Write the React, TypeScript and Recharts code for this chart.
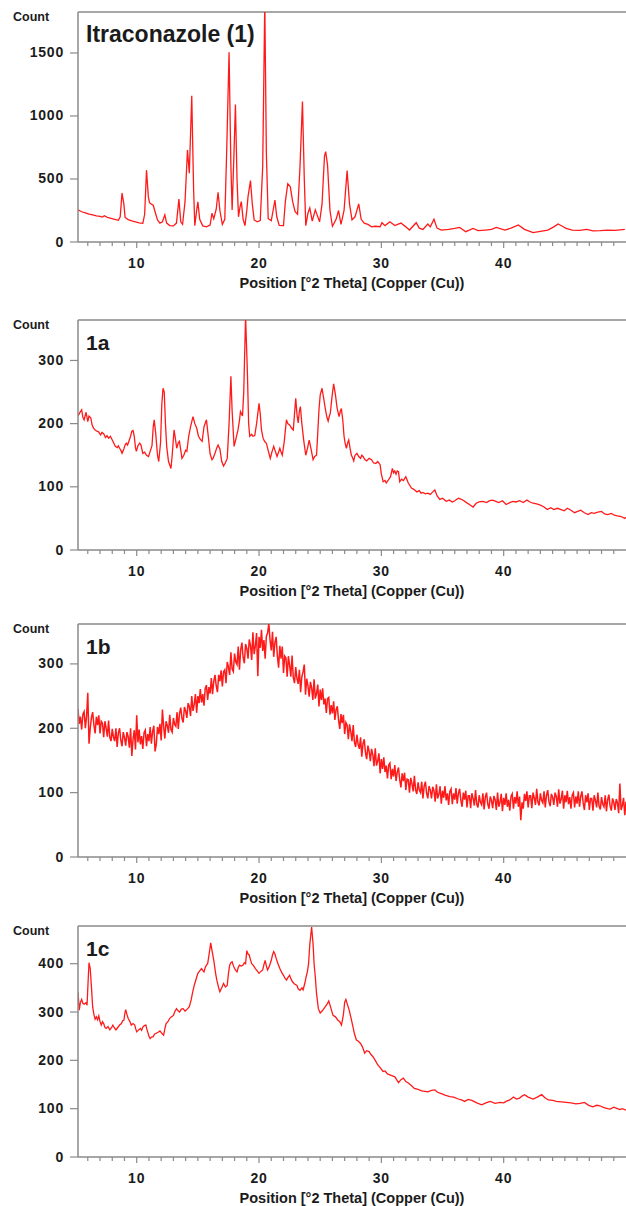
import { LineChart, Line, XAxis, YAxis, ReferenceLine } from "recharts";

// XRD patterns, [2 theta, count]
const itraconazole: [number, number][] = [
  [5.2, 255], [5.5, 240], [5.8, 232], [6.1, 222], [6.4, 215], [6.7, 208], [7.0, 203], [7.2, 198],
  [7.35, 208], [7.6, 196], [7.9, 188], [8.2, 180], [8.5, 172], [8.65, 200], [8.8, 388], [8.95, 300],
  [9.05, 195], [9.3, 178], [9.6, 168], [9.9, 160], [10.2, 152], [10.5, 148], [10.65, 220], [10.8, 570],
  [10.95, 360], [11.05, 312], [11.2, 300], [11.35, 292], [11.5, 240], [11.7, 175], [11.9, 150],
  [12.1, 160], [12.3, 215], [12.45, 150], [12.7, 130], [13.0, 128], [13.25, 150], [13.45, 340],
  [13.6, 160], [13.75, 140], [13.95, 320], [14.15, 730], [14.3, 545], [14.5, 1160], [14.65, 420],
  [14.75, 130], [14.9, 250], [15.0, 318], [15.15, 180], [15.4, 128], [15.7, 120], [16.0, 135],
  [16.15, 228], [16.3, 185], [16.5, 260], [16.65, 395], [16.8, 250], [17.0, 140], [17.2, 180],
  [17.35, 700], [17.55, 1505], [17.7, 600], [17.8, 255], [17.95, 700], [18.07, 1090], [18.2, 500],
  [18.32, 200], [18.45, 280], [18.55, 320], [18.7, 180], [18.85, 130], [19.0, 250], [19.1, 360],
  [19.3, 487], [19.45, 300], [19.6, 175], [19.85, 160], [20.1, 170], [20.3, 600], [20.47, 1900],
  [20.6, 700], [20.75, 185], [21.0, 170], [21.15, 250], [21.3, 333], [21.45, 200], [21.65, 132],
  [22.0, 130], [22.15, 320], [22.35, 462], [22.55, 440], [22.75, 320], [22.95, 240], [23.15, 220],
  [23.35, 600], [23.55, 1114], [23.7, 500], [23.82, 130], [24.0, 230], [24.15, 270], [24.35, 165],
  [24.6, 255], [24.95, 160], [25.15, 300], [25.35, 680], [25.45, 717], [25.6, 610], [25.8, 250],
  [26.0, 125], [26.3, 180], [26.5, 250], [26.7, 140], [26.95, 250], [27.2, 566], [27.4, 300],
  [27.6, 175], [27.85, 200], [28.15, 302], [28.35, 180], [28.6, 150], [28.9, 140], [29.2, 120],
  [29.5, 125], [29.9, 121], [30.05, 153], [30.3, 130], [30.7, 161], [31.1, 130], [31.6, 150],
  [32.0, 120], [32.3, 95], [32.85, 153], [33.1, 110], [33.4, 100], [33.8, 143], [34.0, 120],
  [34.3, 180], [34.55, 110], [34.9, 95], [35.5, 100], [36.0, 108], [36.4, 116], [36.9, 82],
  [37.5, 108], [37.9, 90], [38.5, 95], [39.0, 100], [39.4, 116], [40.1, 95], [40.6, 110],
  [41.2, 135], [41.7, 100], [42.4, 74], [43.0, 85], [43.6, 95], [44.1, 120], [44.45, 143],
  [44.8, 125], [45.1, 108], [45.6, 95], [46.2, 92], [46.8, 100], [47.3, 88], [47.9, 90],
  [48.5, 95], [49.1, 92], [49.9, 100],
];

const sample1a: [number, number][] = [
  [5.2, 212], [5.34, 217], [5.5, 222], [5.6, 210], [5.7, 206], [5.86, 218], [6.0, 203], [6.1, 212],
  [6.25, 209], [6.35, 198], [6.47, 193], [6.6, 190], [6.75, 188], [6.88, 187], [7.05, 182],
  [7.15, 186], [7.3, 184], [7.45, 178], [7.57, 181], [7.7, 177], [7.85, 180], [7.98, 175],
  [8.1, 170], [8.25, 164], [8.4, 162], [8.5, 165], [8.6, 161], [8.7, 158], [8.8, 153], [8.95, 160],
  [9.05, 166], [9.15, 169], [9.25, 166], [9.34, 171], [9.5, 180], [9.6, 188], [9.7, 189],
  [9.8, 180], [9.9, 162], [9.97, 156], [10.1, 165], [10.24, 169], [10.35, 166], [10.5, 153],
  [10.65, 155], [10.8, 150], [10.97, 148], [11.1, 156], [11.25, 165], [11.35, 195], [11.43, 206],
  [11.55, 185], [11.7, 150], [11.8, 140], [11.95, 170], [12.05, 230], [12.15, 256], [12.25, 250],
  [12.35, 200], [12.45, 164], [12.6, 140], [12.8, 129], [12.9, 150], [13.05, 190], [13.15, 178],
  [13.27, 161], [13.4, 170], [13.49, 172], [13.6, 158], [13.7, 145], [13.85, 150], [14.0, 158],
  [14.1, 156], [14.25, 180], [14.4, 195], [14.6, 211], [14.75, 200], [14.9, 193], [15.05, 180],
  [15.2, 175], [15.35, 172], [15.5, 195], [15.7, 206], [15.85, 180], [16.0, 152], [16.15, 143],
  [16.24, 145], [16.4, 153], [16.55, 162], [16.65, 166], [16.8, 160], [16.95, 140], [17.1, 133],
  [17.25, 138], [17.4, 145], [17.55, 200], [17.7, 275], [17.8, 220], [17.96, 164], [18.1, 175],
  [18.28, 190], [18.4, 205], [18.48, 219], [18.58, 215], [18.65, 212], [18.75, 250], [18.9, 370],
  [19.05, 280], [19.15, 200], [19.24, 180], [19.4, 183], [19.5, 180], [19.65, 181], [19.8, 200],
  [20.0, 232], [20.1, 215], [20.2, 190], [20.33, 177], [20.45, 172], [20.6, 169], [20.74, 158],
  [20.85, 150], [20.92, 145], [21.05, 155], [21.2, 164], [21.3, 158], [21.47, 148], [21.6, 155],
  [21.7, 161], [21.8, 155], [21.9, 150], [22.05, 170], [22.24, 206], [22.35, 200], [22.5, 198],
  [22.65, 193], [22.8, 190], [22.9, 215], [23.0, 240], [23.1, 215], [23.2, 201], [23.3, 220],
  [23.38, 227], [23.5, 200], [23.65, 174], [23.82, 150], [23.95, 160], [24.1, 174], [24.25, 160],
  [24.42, 143], [24.55, 148], [24.7, 150], [24.8, 185], [24.9, 222], [25.0, 245], [25.15, 256],
  [25.3, 238], [25.45, 220], [25.55, 210], [25.65, 204], [25.75, 212], [25.83, 217], [25.95, 240],
  [26.1, 263], [26.25, 245], [26.38, 225], [26.54, 211], [26.65, 220], [26.73, 224], [26.85, 205],
  [26.95, 180], [27.05, 168], [27.14, 161], [27.25, 170], [27.33, 174], [27.45, 160], [27.55, 150],
  [27.65, 146], [27.74, 141], [27.85, 150], [28.0, 153], [28.15, 148], [28.3, 145], [28.4, 150],
  [28.5, 148], [28.65, 143], [28.8, 141], [29.0, 145], [29.2, 143], [29.35, 138], [29.55, 137],
  [29.7, 140], [29.9, 135], [30.0, 120], [30.15, 108], [30.3, 110], [30.4, 106], [30.55, 110],
  [30.75, 116], [30.9, 129], [31.0, 122], [31.1, 125], [31.2, 120], [31.3, 125], [31.4, 124],
  [31.5, 108], [31.65, 112], [31.8, 110], [32.0, 116], [32.2, 106], [32.46, 98], [32.65, 96],
  [32.9, 92], [33.1, 94], [33.25, 90], [33.4, 91], [33.6, 89], [33.8, 90], [34.0, 88], [34.2, 92],
  [34.37, 95], [34.55, 86], [34.78, 80], [35.0, 82], [35.3, 77], [35.55, 79], [35.8, 76],
  [36.0, 78], [36.3, 82], [36.55, 80], [36.75, 78], [36.96, 75], [37.2, 72], [37.5, 68],
  [37.75, 74], [38.0, 76], [38.3, 77], [38.6, 75], [38.85, 78], [39.1, 79], [39.35, 77],
  [39.6, 75], [39.9, 78], [40.2, 72], [40.5, 75], [40.75, 77], [41.0, 76], [41.3, 78], [41.6, 75],
  [41.9, 79], [42.15, 76], [42.4, 74], [42.7, 73], [43.0, 71], [43.3, 68], [43.57, 64],
  [43.85, 67], [44.1, 64], [44.4, 66], [44.7, 64], [44.95, 62], [45.2, 66], [45.5, 63],
  [45.8, 59], [46.05, 61], [46.3, 63], [46.6, 59], [46.9, 56], [47.15, 59], [47.4, 58],
  [47.7, 60], [48.0, 61], [48.25, 57], [48.5, 56], [48.8, 58], [49.05, 55], [49.3, 54],
  [49.6, 53], [49.9, 50], [50.0, 52],
];

// 1b is an evenly stepped, noisy scan: one count every 0.1 deg from 5.2 to 50.0
const SCAN_1B_START = 5.2;
const SCAN_1B_STEP = 0.1;
const counts1b = [
  230, 207, 218, 198, 222, 226, 200, 218, 255, 176,
  200, 217, 225, 205, 192, 218, 205, 220, 192, 211,
  208, 186, 211, 200, 187, 212, 186, 180, 199, 186,
  180, 200, 171, 193, 200, 181, 172, 194, 186, 173,
  194, 187, 170, 200, 157, 183, 197, 167, 220, 178,
  198, 175, 188, 168, 193, 197, 172, 191, 180, 202,
  176, 195, 204, 164, 175, 202, 191, 207, 181, 229,
  203, 184, 211, 204, 193, 221, 198, 194, 216, 206,
  203, 225, 199, 223, 232, 215, 209, 233, 227, 216,
  239, 234, 219, 250, 227, 237, 253, 224, 250, 239,
  261, 240, 253, 235, 262, 267, 244, 264, 254, 278,
  253, 273, 283, 266, 256, 283, 273, 290, 265, 288,
  291, 270, 303, 295, 283, 318, 292, 288, 316, 303,
  299, 327, 291, 322, 333, 310, 301, 331, 324, 308,
  338, 329, 306, 349, 315, 328, 348, 281, 342, 325,
  353, 320, 337, 308, 343, 348, 363, 337, 321, 350,
  311, 333, 342, 312, 294, 328, 308, 327, 286, 312,
  309, 280, 312, 298, 280, 313, 279, 270, 295, 277,
  269, 291, 256, 280, 288, 299, 252, 277, 266, 249,
  272, 263, 244, 276, 246, 254, 268, 234, 260, 244,
  262, 237, 246, 224, 246, 248, 221, 236, 223, 242,
  213, 229, 234, 213, 199, 222, 208, 221, 191, 209,
  205, 183, 206, 195, 180, 205, 178, 171, 190, 175,
  168, 186, 156, 176, 183, 162, 152, 173, 164, 149,
  168, 159, 141, 169, 142, 149, 161, 130, 152, 137,
  155, 132, 142, 122, 143, 146, 121, 137, 125, 143,
  118, 132, 139, 120, 108, 130, 118, 131, 104, 121,
  120, 100, 123, 114, 102, 126, 104, 98, 116, 104,
  100, 117, 91, 110, 117, 99, 91, 110, 104, 91,
  109, 103, 86, 113, 91, 97, 110, 83, 103, 92,
  110, 88, 99, 81, 102, 106, 82, 99, 89, 107,
  83, 99, 106, 88, 78, 100, 89, 103, 77, 95,
  95, 76, 99, 91, 80, 104, 82, 77, 96, 85,
  81, 99, 74, 93, 100, 82, 75, 94, 88, 76,
  95, 89, 73, 100, 78, 85, 98, 71, 92, 81,
  99, 78, 89, 72, 94, 98, 75, 93, 83, 102,
  78, 94, 57, 85, 75, 98, 87, 102, 77, 95,
  95, 76, 100, 92, 81, 106, 85, 80, 99, 88,
  84, 102, 77, 96, 104, 86, 79, 98, 93, 81,
  100, 94, 78, 105, 83, 90, 103, 75, 96, 85,
  103, 82, 93, 75, 96, 100, 77, 94, 83, 102,
  78, 94, 102, 84, 73, 96, 85, 99, 73, 91,
  91, 72, 96, 88, 77, 100, 79, 74, 93, 82,
  78, 96, 71, 89, 97, 79, 72, 91, 85, 73,
  90, 84, 68, 114, 73, 80, 92, 65, 86,
];

const sample1c: [number, number][] = [
  [5.2, 342], [5.3, 304], [5.4, 320], [5.5, 326], [5.6, 318], [5.7, 316], [5.85, 319], [5.94, 314],
  [6.02, 360], [6.1, 402], [6.2, 390], [6.3, 352], [6.4, 310], [6.5, 295], [6.6, 285], [6.7, 290],
  [6.8, 284], [6.9, 292], [7.0, 280], [7.1, 273], [7.2, 280], [7.3, 276], [7.4, 268], [7.5, 266],
  [7.65, 270], [7.8, 263], [7.95, 268], [8.05, 273], [8.15, 268], [8.3, 263], [8.45, 268],
  [8.6, 273], [8.75, 276], [8.85, 282], [8.95, 283], [9.05, 300], [9.1, 305], [9.2, 295],
  [9.3, 287], [9.45, 280], [9.56, 273], [9.7, 276], [9.84, 273], [9.92, 265], [10.0, 259],
  [10.15, 263], [10.3, 266], [10.4, 262], [10.5, 269], [10.62, 272], [10.75, 273], [10.82, 265],
  [10.9, 259], [11.0, 250], [11.1, 245], [11.2, 248], [11.35, 249], [11.45, 254], [11.6, 256],
  [11.75, 258], [11.9, 261], [12.05, 256], [12.2, 252], [12.3, 265], [12.4, 276], [12.55, 280],
  [12.7, 287], [12.85, 290], [13.0, 293], [13.1, 300], [13.25, 307], [13.4, 302], [13.5, 300],
  [13.65, 306], [13.8, 307], [13.95, 302], [14.05, 304], [14.2, 308], [14.3, 311], [14.45, 325],
  [14.55, 338], [14.65, 350], [14.75, 359], [14.9, 372], [15.0, 380], [15.15, 385], [15.3, 390],
  [15.4, 386], [15.5, 383], [15.6, 392], [15.7, 397], [15.8, 400], [15.92, 420], [16.05, 443],
  [16.15, 428], [16.3, 407], [16.45, 380], [16.55, 366], [16.7, 350], [16.8, 342], [16.95, 350],
  [17.1, 359], [17.25, 352], [17.4, 355], [17.5, 380], [17.6, 397], [17.7, 402], [17.8, 404],
  [17.9, 396], [18.0, 390], [18.1, 386], [18.2, 383], [18.3, 392], [18.4, 397], [18.55, 395],
  [18.7, 397], [18.8, 402], [18.9, 400], [19.0, 427], [19.1, 420], [19.2, 418], [19.3, 408],
  [19.4, 400], [19.55, 396], [19.7, 390], [19.85, 385], [20.0, 380], [20.15, 384], [20.3, 387],
  [20.4, 398], [20.5, 407], [20.6, 395], [20.7, 387], [20.85, 395], [21.0, 407], [21.1, 418],
  [21.2, 425], [21.3, 420], [21.4, 411], [21.55, 400], [21.7, 390], [21.85, 382], [22.0, 376],
  [22.12, 370], [22.25, 366], [22.38, 372], [22.5, 376], [22.62, 368], [22.75, 362], [22.9, 358],
  [23.1, 355], [23.2, 348], [23.35, 345], [23.5, 350], [23.6, 346], [23.75, 360], [23.85, 373],
  [23.95, 383], [24.05, 400], [24.15, 440], [24.3, 476], [24.42, 440], [24.5, 400], [24.6, 373],
  [24.7, 338], [24.85, 307], [25.0, 298], [25.15, 302], [25.3, 307], [25.45, 312], [25.6, 318],
  [25.7, 323], [25.85, 310], [26.05, 293], [26.25, 290], [26.45, 283], [26.6, 280], [26.74, 273],
  [26.9, 295], [27.0, 320], [27.1, 326], [27.2, 318], [27.37, 304], [27.5, 290], [27.65, 273],
  [27.8, 255], [27.96, 242], [28.1, 240], [28.3, 235], [28.45, 228], [28.64, 215], [28.8, 220],
  [29.0, 218], [29.15, 212], [29.3, 208], [29.5, 200], [29.7, 191], [29.9, 185], [30.14, 177],
  [30.3, 178], [30.5, 172], [30.7, 170], [30.9, 168], [31.1, 166], [31.25, 160], [31.4, 154],
  [31.6, 160], [31.8, 163], [32.0, 156], [32.2, 153], [32.45, 148], [32.7, 142], [33.0, 140],
  [33.3, 137], [33.55, 136], [33.8, 135], [34.1, 138], [34.37, 139], [34.6, 134], [34.9, 131],
  [35.2, 128], [35.6, 125], [35.9, 124], [36.3, 120], [36.55, 118], [36.8, 115], [37.1, 119],
  [37.4, 117], [37.8, 112], [38.2, 108], [38.55, 112], [38.9, 115], [39.3, 111], [39.7, 113],
  [40.0, 112], [40.2, 115], [40.5, 118], [40.8, 124], [41.05, 120], [41.3, 122], [41.5, 126],
  [41.7, 129], [42.0, 124], [42.4, 120], [42.75, 124], [43.1, 129], [43.4, 122], [43.65, 118],
  [44.0, 117], [44.3, 115], [44.7, 114], [45.1, 113], [45.5, 112], [45.9, 110], [46.25, 111],
  [46.6, 113], [46.95, 107], [47.3, 104], [47.6, 107], [47.86, 106], [48.2, 102], [48.5, 100],
  [48.7, 99], [49.0, 103], [49.2, 101], [49.5, 98], [49.7, 100], [50.0, 97],
];

const X_MIN = 5.2;
const X_MAX = 50;
const X_TICKS = [
  6, 7, 8, 9, 10, 11, 12, 13, 14, 15, 16, 17, 18, 19, 20, 21, 22, 23, 24, 25, 26, 27,
  28, 29, 30, 31, 32, 33, 34, 35, 36, 37, 38, 39, 40, 41, 42, 43, 44, 45, 46, 47, 48, 49,
];
const X_LABELS = [10, 20, 30, 40];
const X_TITLE = "Position [°2 Theta] (Copper (Cu))";

const RED = "#ff1a1a";
const AXIS = "#8a8a8a";
const INK = "#1b1b1b";
const FONT = "'Liberation Sans', Arial, sans-serif";

const pairs = (rows: [number, number][]) => rows.map(([theta, count]) => ({ theta, count }));
const scan1b = counts1b.map((count, i) => ({
  theta: +(SCAN_1B_START + i * SCAN_1B_STEP).toFixed(2),
  count,
}));

const XTick = ({ x, y, payload }: any) => {
  const major = X_LABELS.includes(payload.value);
  return (
    <g>
      <line x1={x} x2={x} y1={y} y2={y + (major ? 6 : 4)} stroke={AXIS} strokeWidth={1.2} />
      {major && (
        <text x={x} y={y + 25.5} textAnchor="middle" fontFamily={FONT} fontWeight="bold"
          fontSize={14} letterSpacing={0.8} fill={INK}>
          {payload.value}
        </text>
      )}
    </g>
  );
};

const YTick = ({ x, y, payload }: any) => (
  <text x={x} y={y} dy={4.5} textAnchor="end" fontFamily={FONT} fontWeight="bold"
    fontSize={14} letterSpacing={0.8} fill={INK}>
    {payload.value}
  </text>
);

type PanelProps = {
  plotTop: number;
  plotH: number;
  yMax: number;
  yTicks: number[];
  data: { theta: number; count: number }[];
  title: string;
  titleSize: number;
  lineWidth?: number;
};

function Panel({ plotTop, plotH, yMax, yTicks, data, title, titleSize, lineWidth = 1.3 }: PanelProps) {
  const mt = 10;
  const h = mt + plotH + 50;
  return (
    <div style={{ position: "absolute", left: 0, top: plotTop - mt, width: 626, height: h }}>
      <LineChart width={626} height={h} data={data} margin={{ top: mt, right: 0, bottom: 0, left: 0 }}>
        <XAxis dataKey="theta" type="number" domain={[X_MIN, X_MAX]} allowDataOverflow
          ticks={X_TICKS} interval={0} height={50} tickSize={0} tickMargin={0} tickLine={false}
          axisLine={{ stroke: AXIS, strokeWidth: 1.5 }} tick={(p: any) => <XTick {...p} />} />
        <YAxis type="number" domain={[0, yMax]} allowDataOverflow ticks={yTicks} interval={0}
          width={78} tickSize={8} tickMargin={6} tickLine={{ stroke: AXIS, strokeWidth: 1.2 }}
          axisLine={{ stroke: AXIS, strokeWidth: 1.5 }} tick={(p: any) => <YTick {...p} />} />
        <ReferenceLine y={yMax} stroke={AXIS} strokeWidth={1.5} ifOverflow="visible" />
        <Line dataKey="count" type="linear" stroke={RED} strokeWidth={lineWidth} dot={false}
          isAnimationActive={false} />
      </LineChart>
      <svg width={626} height={h + 10} style={{ position: "absolute", left: 0, top: 0, pointerEvents: "none" }}>
        <text x={13} y={mt + 9} fontFamily={FONT} fontWeight="bold" fontSize={12.5} fill={INK}>
          Count
        </text>
        <text x={86} y={mt + 30} fontFamily={FONT} fontWeight="bold" fontSize={titleSize} fill={INK}>
          {title}
        </text>
        <text x={352} y={mt + plotH + 45.5} textAnchor="middle" fontFamily={FONT} fontWeight="bold"
          fontSize={14.5} fill={INK}>
          {X_TITLE}
        </text>
      </svg>
    </div>
  );
}

export default function App() {
  return (
    <div style={{ position: "absolute", left: 0, top: 0, width: 626, height: 1206, background: "#fff", overflow: "hidden" }}>
      <Panel plotTop={12} plotH={230} yMax={1825} yTicks={[0, 500, 1000, 1500]}
        data={pairs(itraconazole)} title="Itraconazole (1)" titleSize={23} />
      <Panel plotTop={320} plotH={230} yMax={364} yTicks={[0, 100, 200, 300]}
        data={pairs(sample1a)} title="1a" titleSize={21} />
      <Panel plotTop={624} plotH={233} yMax={362} yTicks={[0, 100, 200, 300]}
        data={scan1b} title="1b" titleSize={21} lineWidth={1.5} />
      <Panel plotTop={926} plotH={231} yMax={478} yTicks={[0, 100, 200, 300, 400]}
        data={pairs(sample1c)} title="1c" titleSize={21} />
    </div>
  );
}
